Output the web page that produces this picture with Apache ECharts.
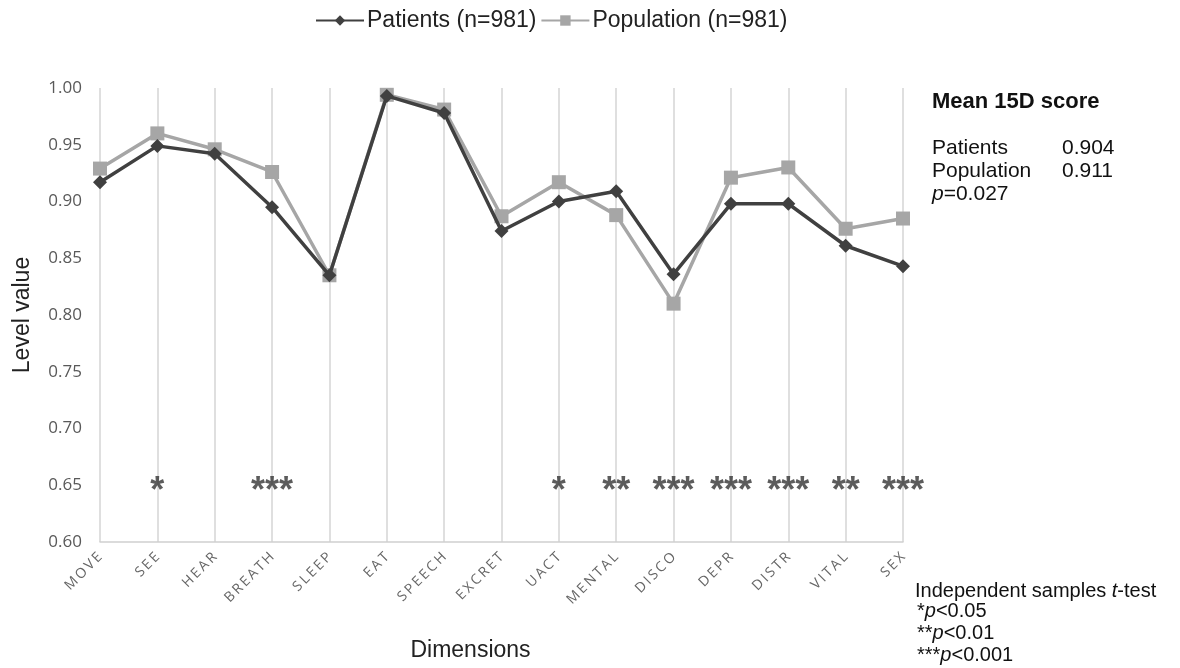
<!DOCTYPE html>
<html><head><meta charset="utf-8">
<script src="https://cdn.jsdelivr.net/npm/echarts@6/dist/echarts.min.js"></script>
<style>html,body{margin:0;padding:0;background:#fff}#c{width:1180px;height:668px}</style>
</head><body><div id="c"></div>
<script>
const categories = ['MOVE','SEE','HEAR','BREATH','SLEEP','EAT','SPEECH','EXCRET','UACT','MENTAL','DISCO','DEPR','DISTR','VITAL','SEX'];
const patients = [0.917,0.949,0.942,0.895,0.835,0.993,0.978,0.874,0.900,0.909,0.836,0.898,0.898,0.861,0.843];
const population = [0.929,0.960,0.946,0.926,0.835,0.994,0.981,0.887,0.917,0.888,0.810,0.921,0.930,0.876,0.885];
const significance = ['','*','','***','','','','','*','**','***','***','***','**','***'];
const sigLevel = 0.648;
const yTicks = {min:0.60, max:1.00, interval:0.05};

const sigData = [];
significance.forEach((s,i)=>{ if(s) sigData.push({value:[i, sigLevel], mark:s}); });

const chart = echarts.init(document.getElementById('c'));
const font = 'Liberation Sans, Arial, sans-serif';
const it = {fontStyle:'italic', fontSize:20, fontFamily:font};
chart.setOption({
  animation:false,
  backgroundColor:'#fff',
  textStyle:{fontFamily:font},
  legend:{
    left:310, top:4, itemWidth:48, itemHeight:13, itemGap:4,
    data:['Patients (n=981)','Population (n=981)'],
    textStyle:{fontSize:23, color:'#222', fontFamily:font, padding:[0,0,0,-2]}
  },
  grid:{left:100, right:277, top:88, bottom:126},
  xAxis:{
    type:'category', data:categories, boundaryGap:false,
    name:'Dimensions', nameLocation:'middle', nameGap:97,
    nameTextStyle:{fontSize:23, color:'#222', fontFamily:font, padding:[0,62,0,0]},
    axisLine:{lineStyle:{color:'#d0d0d0', width:1.5}},
    axisTick:{show:false},
    axisLabel:{rotate:45, fontSize:14, color:'#666', fontFamily:'Open Sans, sans-serif', margin:13,
      formatter:v=>v.split('').join('\u2009')},
    splitLine:{show:true, lineStyle:{color:'#d4d4d4', width:1.5}}
  },
  yAxis:{
    type:'value', min:yTicks.min, max:yTicks.max, interval:yTicks.interval,
    name:'Level value', nameLocation:'middle', nameGap:66, nameRotate:90,
    nameTextStyle:{fontSize:23, color:'#222', fontFamily:font},
    axisLine:{show:false}, axisTick:{show:false},
    axisLabel:{fontSize:17, color:'#595959', fontFamily:'Open Sans, sans-serif', formatter:v=>v.toFixed(2), margin:18},
    splitLine:{show:false}
  },
  series:[
    {name:'Population (n=981)', type:'line', data:population, symbol:'rect', symbolSize:14,
      lineStyle:{color:'#a6a6a6', width:3.5}, itemStyle:{color:'#a6a6a6'}, z:2},
    {name:'Patients (n=981)', type:'line', data:patients, symbol:'diamond', symbolSize:14,
      lineStyle:{color:'#404040', width:3.5}, itemStyle:{color:'#404040'}, z:3},
    {name:'sig', type:'scatter', data:sigData, symbolSize:2, itemStyle:{color:'rgba(0,0,0,0)'}, silent:true, z:4,
      label:{show:true, position:'inside', formatter:p=>p.data.mark, fontSize:36, fontWeight:'bold', color:'#333', fontFamily:font, offset:[0,5]}}
  ],
  graphic:[
    {type:'text', left:932, top:91, style:{text:'Mean 15D score', font:'bold 22px '+font, fill:'#111'}},
    {type:'text', left:932, top:137, style:{text:'Patients\nPopulation', font:'21px '+font, fill:'#111', lineHeight:23}},
    {type:'text', left:1062, top:137, style:{text:'0.904\n0.911', font:'21px '+font, fill:'#111', lineHeight:23}},
    {type:'text', left:932, top:184, style:{text:'{i|p}=0.027', font:'21px '+font, fill:'#111',
      rich:{i:{fontStyle:'italic', fontSize:21, fontFamily:font}}}},
    {type:'text', left:915, top:581, style:{text:'Independent samples {i|t}-test', font:'20px '+font, fill:'#111', rich:{i:it}}},
    {type:'text', left:917, top:601, style:{text:'*{i|p}<0.05', font:'20px '+font, fill:'#111', rich:{i:it}}},
    {type:'text', left:917, top:623, style:{text:'**{i|p}<0.01', font:'20px '+font, fill:'#111', rich:{i:it}}},
    {type:'text', left:917, top:645, style:{text:'***{i|p}<0.001', font:'20px '+font, fill:'#111', rich:{i:it}}}
  ]
});
</script></body></html>
